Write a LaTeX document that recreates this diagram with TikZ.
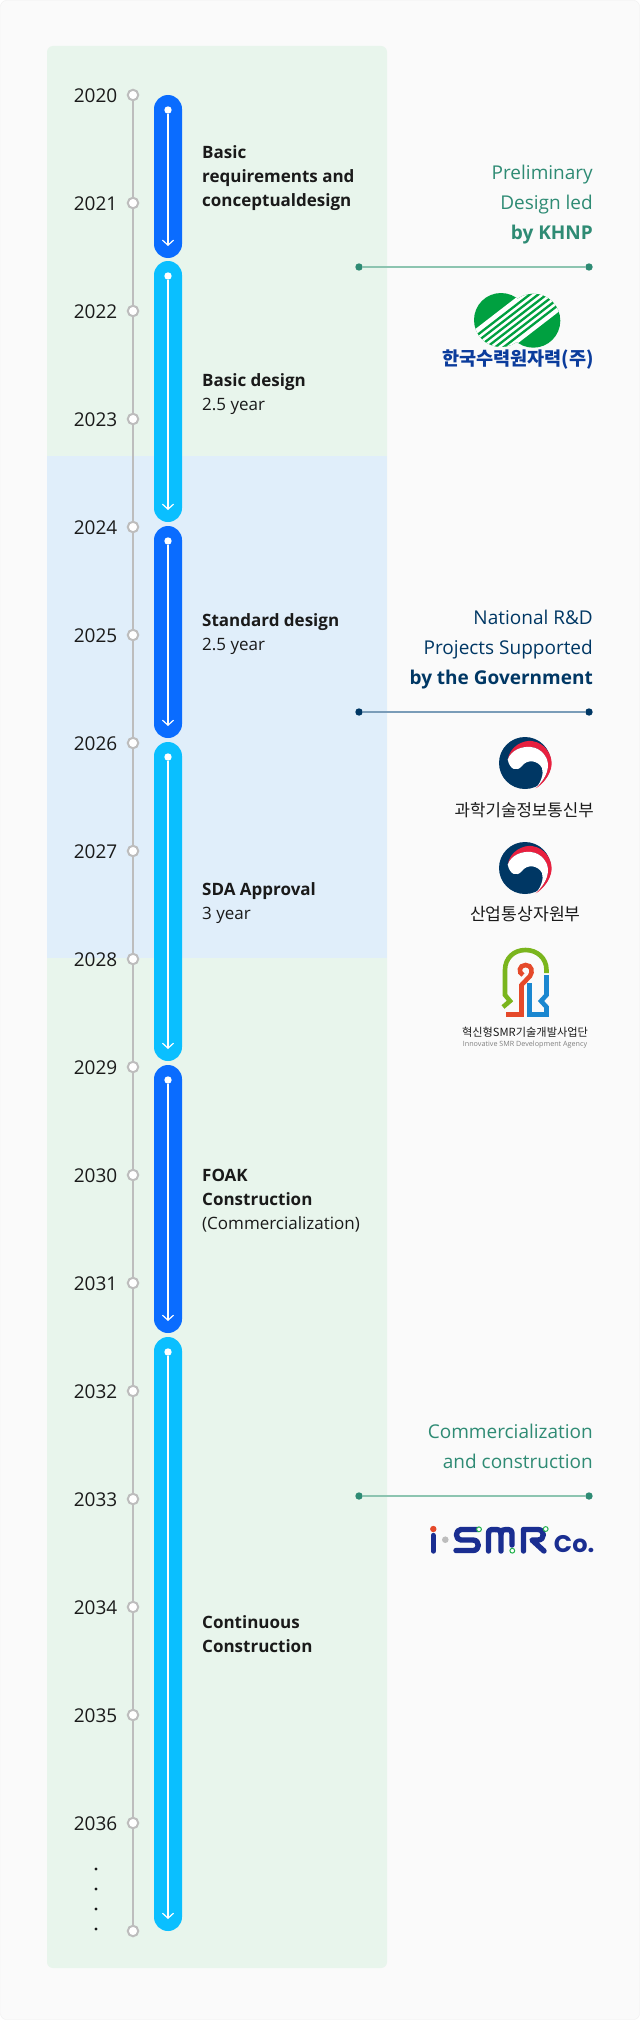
\documentclass[tikz,border=0pt]{standalone}
\usepackage{fontspec}
\setmainfont{Open Sans}
\newfontfamily\korfont{Noto Sans CJK KR}
\newfontfamily\cofont{Poppins}
\usepackage{tikz}
\usetikzlibrary{arrows.meta,positioning}

\definecolor{pagebg}{HTML}{FAFAFA}
\definecolor{pageedge}{HTML}{EFEFEF}
\definecolor{panelgreen}{HTML}{E8F5EC}
\definecolor{panelblue}{HTML}{E0EEFA}
\definecolor{pillblue}{HTML}{0A6CFF}
\definecolor{pillsky}{HTML}{0ABFFF}
\definecolor{railgray}{HTML}{BDBDBD}
\definecolor{inkblack}{HTML}{1A1A1A}
\definecolor{teal}{HTML}{2E8B74}
\definecolor{teallight}{HTML}{8CC4B0}
\definecolor{navy}{HTML}{003764}
\definecolor{navylight}{HTML}{7A9CB8}
\definecolor{khnpgreen}{HTML}{00A040}
\definecolor{khnpblue}{HTML}{0B3C9C}
\definecolor{flagred}{HTML}{E8203F}
\definecolor{smrgreen}{HTML}{7AB51D}
\definecolor{smrorange}{HTML}{E5492A}
\definecolor{smrblue}{HTML}{1B87D0}
\definecolor{ismrblue}{HTML}{1A2E91}
\definecolor{ringgreen}{HTML}{22B24C}

\begin{document}
\begin{tikzpicture}[
    x=1pt, y=-1pt,
    >=Latex,
    yeardot/.style={circle, draw=railgray, line width=2pt, fill=white, minimum size=10.5pt, inner sep=0pt, outer sep=0pt},
    yearlabel/.style={text=inkblack, font=\fontsize{19}{22}\selectfont, minimum width=44pt, inner sep=0pt, align=center, yshift=-1pt},
    rail/.style={draw=railgray, line width=2pt},
    moredot/.style={circle, fill=inkblack, minimum size=3.4pt, inner sep=0pt},
    pill/.style={rounded corners=14pt, minimum width=28pt, inner sep=0pt, outer sep=0pt},
    pilldark/.style={pill, fill=pillblue},
    pilllight/.style={pill, fill=pillsky},
    pilldot/.style={circle, fill=white, minimum size=7.4pt, inner sep=0pt, outer sep=0pt},
    pillarrow/.style={draw=white, line width=1.2pt, -{Straight Barb[length=5pt,width=11pt]}},
    phase/.style={anchor=west, align=left, inner sep=0pt, text=inkblack, font=\fontsize{17}{24}\selectfont},
    note/.style={anchor=east, align=right, inner sep=0pt, font=\fontsize{19}{30}\selectfont},
    tealdot/.style={circle, fill=teal, minimum size=7.4pt, inner sep=0pt},
    navydot/.style={circle, fill=navy, minimum size=7.4pt, inner sep=0pt},
    taegeuk/.pic={
      \fill[navy] (0,0) circle (26pt);
      \fill[flagred] (-17.3,-3.3) .. controls (-15,-17) and (-2,-23) .. (7,-22) .. controls (20,-20) and (26.7,-9) .. (26.7,1) .. controls (26,12) and (17,22) .. (10.7,25.3) .. controls (16,20) and (23,12) .. (23,2) .. controls (23,-6) and (16,-15) .. (6,-16) .. controls (-3,-17) and (-14,-13) .. (-17.3,-3.3) -- cycle;
      \fill[white] (-17.3,-3.3) .. controls (-14,-13) and (-3,-17) .. (6,-16) .. controls (16,-15) and (23,-6) .. (23,2) .. controls (23,12) and (16,20) .. (10.7,25.3) .. controls (16,19) and (19,11) .. (17,5) .. controls (13,-3) and (2,-4) .. (-3,3) .. controls (-8,9) and (-15,7) .. (-17.3,-3.3) -- cycle;
    }
  ]
  \useasboundingbox (0,0) rectangle (640,2020);
  % page and panels
  \fill[white] (0,0) rectangle (640,2020);
  \draw[pageedge, fill=pagebg, rounded corners=6pt] (0.5,0.5) rectangle (639.5,2019.5);
  \fill[panelgreen, rounded corners=6pt] (47,46) rectangle (387,1968);
  \fill[panelblue] (47,456) rectangle (387,958);

  % year rail
  \node[yeardot] (y2020) at (133,95) {};
  \node[yeardot] (y2021) at (133,203) {};
  \node[yeardot] (y2022) at (133,311) {};
  \node[yeardot] (y2023) at (133,419) {};
  \node[yeardot] (y2024) at (133,527) {};
  \node[yeardot] (y2025) at (133,635) {};
  \node[yeardot] (y2026) at (133,743) {};
  \node[yeardot] (y2027) at (133,851) {};
  \node[yeardot] (y2028) at (133,959) {};
  \node[yeardot] (y2029) at (133,1067) {};
  \node[yeardot] (y2030) at (133,1175) {};
  \node[yeardot] (y2031) at (133,1283) {};
  \node[yeardot] (y2032) at (133,1391) {};
  \node[yeardot] (y2033) at (133,1499) {};
  \node[yeardot] (y2034) at (133,1607) {};
  \node[yeardot] (y2035) at (133,1715) {};
  \node[yeardot] (y2036) at (133,1823) {};
  \node[yeardot] (yend) at (133,1931) {};

  \draw[rail] (y2020) -- (y2021);
  \draw[rail] (y2021) -- (y2022);
  \draw[rail] (y2022) -- (y2023);
  \draw[rail] (y2023) -- (y2024);
  \draw[rail] (y2024) -- (y2025);
  \draw[rail] (y2025) -- (y2026);
  \draw[rail] (y2026) -- (y2027);
  \draw[rail] (y2027) -- (y2028);
  \draw[rail] (y2028) -- (y2029);
  \draw[rail] (y2029) -- (y2030);
  \draw[rail] (y2030) -- (y2031);
  \draw[rail] (y2031) -- (y2032);
  \draw[rail] (y2032) -- (y2033);
  \draw[rail] (y2033) -- (y2034);
  \draw[rail] (y2034) -- (y2035);
  \draw[rail] (y2035) -- (y2036);
  \draw[rail] (y2036) -- (yend);

  \node[yearlabel, left=10pt of y2020] (l2020) {2020};
  \node[yearlabel, left=10pt of y2021] (l2021) {2021};
  \node[yearlabel, left=10pt of y2022] (l2022) {2022};
  \node[yearlabel, left=10pt of y2023] (l2023) {2023};
  \node[yearlabel, left=10pt of y2024] (l2024) {2024};
  \node[yearlabel, left=10pt of y2025] (l2025) {2025};
  \node[yearlabel, left=10pt of y2026] (l2026) {2026};
  \node[yearlabel, left=10pt of y2027] (l2027) {2027};
  \node[yearlabel, left=10pt of y2028] (l2028) {2028};
  \node[yearlabel, left=10pt of y2029] (l2029) {2029};
  \node[yearlabel, left=10pt of y2030] (l2030) {2030};
  \node[yearlabel, left=10pt of y2031] (l2031) {2031};
  \node[yearlabel, left=10pt of y2032] (l2032) {2032};
  \node[yearlabel, left=10pt of y2033] (l2033) {2033};
  \node[yearlabel, left=10pt of y2034] (l2034) {2034};
  \node[yearlabel, left=10pt of y2035] (l2035) {2035};
  \node[yearlabel, left=10pt of y2036] (l2036) {2036};

  \node[moredot] (more1) at (96,1869) {};
  \node[moredot] (more2) at (96,1889) {};
  \node[moredot] (more3) at (96,1909) {};
  \node[moredot] (more4) at (96,1929) {};

  % phase pills
  \node[pilldark, anchor=north, minimum height=163pt] (p1) at (168,95) {};
  \node[pilllight, below=3pt of p1, minimum height=261pt] (p2) {};
  \node[pilldark, below=4pt of p2, minimum height=212pt] (p3) {};
  \node[pilllight, below=4pt of p3, minimum height=319pt] (p4) {};
  \node[pilldark, below=4pt of p4, minimum height=268pt] (p5) {};
  \node[pilllight, below=4pt of p5, minimum height=594pt] (p6) {};

  \node[pilldot, below=11.3pt of p1.north] (s1) {};
  \node[pilldot, below=11.3pt of p2.north] (s2) {};
  \node[pilldot, below=11.3pt of p3.north] (s3) {};
  \node[pilldot, below=11.3pt of p4.north] (s4) {};
  \node[pilldot, below=11.3pt of p5.north] (s5) {};
  \node[pilldot, below=11.3pt of p6.north] (s6) {};
  \coordinate[above=12pt of p1.south] (e1);
  \coordinate[above=12pt of p2.south] (e2);
  \coordinate[above=12pt of p3.south] (e3);
  \coordinate[above=12pt of p4.south] (e4);
  \coordinate[above=12pt of p5.south] (e5);
  \coordinate[above=12pt of p6.south] (e6);
  \draw[pillarrow] (s1) -- (e1);
  \draw[pillarrow] (s2) -- (e2);
  \draw[pillarrow] (s3) -- (e3);
  \draw[pillarrow] (s4) -- (e4);
  \draw[pillarrow] (s5) -- (e5);
  \draw[pillarrow] (s6) -- (e6);

  % phase labels
  \node[phase, font=\fontsize{17}{24}\selectfont\bfseries] (t1) at (202,178) {Basic\\requirements and\\conceptualdesign};
  \node[phase] (t2) at (202,394) {\textbf{Basic design}\\2.5 year};
  \node[phase] (t3) at (202,634) {\textbf{Standard design}\\2.5 year};
  \node[phase] (t4) at (202,903.5) {\textbf{SDA Approval}\\3 year};
  \node[phase] (t5) at (202,1200.5) {\textbf{FOAK}\\\textbf{Construction}\\(Commercialization)};
  \node[phase, font=\fontsize{17}{24}\selectfont\bfseries] (t6) at (202,1634) {Continuous\\Construction};

  % right notes
  \node[note, text=teal] (n1) at (593,204.5) {Preliminary\\Design led\hspace{6pt}\\\textbf{by KHNP}};
  \node[tealdot] (a1) at (359,267) {};
  \node[tealdot] (b1) at (589,267) {};
  \draw[teallight, line width=1.6pt] (a1) -- (b1);

  \node[note, text=navy] (n2) at (593,649.5) {National R\&D\\Projects Supported\\\textbf{by the Government}};
  \node[navydot] (a2) at (359,712) {};
  \node[navydot] (b2) at (589,712) {};
  \draw[navylight, line width=1.6pt] (a2) -- (b2);

  \node[note, text=teal] (n3) at (593,1446.5) {Commercialization\\and construction};
  \node[tealdot] (a3) at (359,1496) {};
  \node[tealdot] (b3) at (589,1496) {};
  \draw[teallight, line width=1.6pt] (a3) -- (b3);

  % KHNP logo
  \begin{scope}
    \clip (501,320) circle (27pt) (533.3,320.7) circle (27pt);
    \fill[khnpgreen] (470,290) rectangle (565,350);
    \fill[white] (465,337) -- (570,256) -- (570,303) -- (465,384) -- cycle;
    \draw[khnpgreen, line width=2.3pt] (465,344.5) -- (570,263.5);
    \draw[khnpgreen, line width=2.3pt] (465,351) -- (570,270);
    \draw[khnpgreen, line width=2.3pt] (465,357.5) -- (570,276.5);
    \draw[khnpgreen, line width=2.3pt] (465,364) -- (570,283);
    \draw[khnpgreen, line width=2.3pt] (465,370.5) -- (570,289.5);
    \draw[khnpgreen, line width=2.3pt] (465,377) -- (570,296);
  \end{scope}
  \node[anchor=east, inner sep=0pt, text=khnpblue, font=\korfont\bfseries\fontsize{18.6}{21}\selectfont] (khnp) at (594,360) {한국수력원자력(주)};

  % ministry logos
  \pic at (525,763) {taegeuk};
  \node[anchor=east, inner sep=0pt, text=inkblack, font=\korfont\fontsize{16.8}{19}\selectfont] (msit) at (594,810) {과학기술정보통신부};
  \pic at (525,868) {taegeuk};
  \node[anchor=east, inner sep=0pt, text=inkblack, font=\korfont\fontsize{17.2}{19}\selectfont] (motie) at (581,914) {산업통상자원부};

  % SMR agency logo
  \draw[smrgreen, line width=4.6pt, line join=miter] (503,1007) -- (510,1001) -- (505,995) -- (505,970) .. controls (505,958) and (514,950) .. (525.5,950) .. controls (537,950) and (546.5,958) .. (546.5,970) -- (546.5,973);
  \draw[smrorange, line width=4.6pt] (506,1014.5) -- (521.5,1014.5) -- (521.5,985) -- (530,976) .. controls (533,972) and (532,965) .. (525.5,965) .. controls (519,965) and (518,973) .. (523,975);
  \draw[smrblue, line width=4.6pt] (546.5,975) -- (546.5,995) -- (541,1001) -- (546.5,1007) -- (546.5,1014.5) -- (529.5,1014.5) -- (529.5,983);
  \node[inner sep=0pt, text=inkblack, font=\korfont\fontsize{11.2}{13}\selectfont] (smrkr) at (525,1032) {혁신형SMR기술개발사업단};
  \node[inner sep=0pt, text=gray, font=\fontsize{7.2}{8}\selectfont] (smren) at (525,1044.5) {Innovative SMR Development Agency};

  % i-SMR logo
  \begin{scope}[ismrblue, line width=5.4pt, line cap=round, line join=round]
    \draw (433.3,1535.5) -- (433.3,1551);
    \draw (478,1529.5) -- (461,1529.5) .. controls (455,1529.5) and (455,1540) .. (461,1540) -- (473,1540) .. controls (480,1540) and (480,1550.5) .. (473,1550.5) -- (456,1550.5);
    \draw (488.5,1551) -- (488.5,1534) .. controls (488.5,1530) and (490,1529.5) .. (494,1529.5) .. controls (499,1529.5) and (501,1530) .. (501,1534) -- (501,1551);
    \draw (501,1534) .. controls (501,1530) and (503,1529.5) .. (506,1529.5) .. controls (510,1529.5) and (512,1530) .. (512,1534) -- (512,1545);
    \draw (523.5,1551) -- (523.5,1529.5) -- (538,1529.5) .. controls (545,1529.5) and (545,1540) .. (538,1540) -- (532,1540) -- (544,1551);
  \end{scope}
  \fill[smrorange] (433.3,1529) circle (3.2pt);
  \fill[railgray] (445.3,1539.7) circle (3.3pt);
  \draw[ringgreen, line width=1pt, fill=white] (479,1529.3) circle (2.4pt);
  \draw[ringgreen, line width=1pt, fill=white] (512.3,1550.7) circle (2.4pt);
  \draw[ringgreen, line width=1pt, fill=white] (545.7,1529) circle (2.4pt);
  \node[anchor=east, inner sep=0pt, text=ismrblue, font=\cofont\bfseries\fontsize{24}{26}\selectfont] (ismrco) at (594.5,1544) {Co.};
\end{tikzpicture}
\end{document}
